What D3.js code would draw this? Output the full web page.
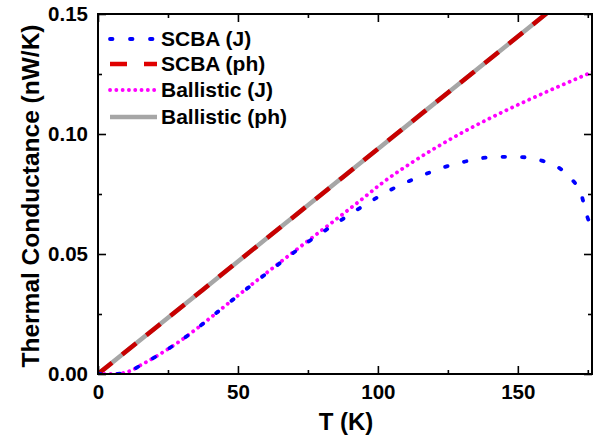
<!DOCTYPE html>
<html>
<head>
<meta charset="utf-8">
<script src="https://cdn.jsdelivr.net/npm/d3@7"></script>
<style>
  html, body { margin: 0; padding: 0; background: #fff; }
  svg { display: block; font-family: "Liberation Sans", Arial, sans-serif; font-weight: bold; }
</style>
</head>
<body>
<svg id="chart" width="598" height="437"></svg>
<script>
// ---- data ----
const phT = [0, 25, 50, 75, 100, 125, 150, 165];
const scbaPh = [0, 0.0234, 0.0469, 0.0703, 0.0938, 0.1172, 0.1406, 0.1547];
const ballisticPh = [0, 0.0234, 0.0469, 0.0703, 0.0938, 0.1172, 0.1406, 0.1547];

const ballJT = [0, 5, 8, 10, 12, 15, 20, 25, 30, 37, 45, 57, 65, 75, 85, 95, 102, 112, 122, 130, 142, 154, 165, 177];
const ballisticJ = [0, 0, 0.0002, 0.0007, 0.0015, 0.0035, 0.0068, 0.0104, 0.0143, 0.0205, 0.0280, 0.0392, 0.0465, 0.0555, 0.0644, 0.0735, 0.0800, 0.0880, 0.0952, 0.1005, 0.1077, 0.1143, 0.1200, 0.1260];

const scbaJT = [0, 5, 8, 10, 12, 15, 20, 25, 30, 37, 45, 57, 65, 75, 85, 95, 105, 115, 124, 130.4, 137.5, 144, 151, 158.5, 164, 169, 172.8, 174.5, 176.5];
const scbaJ = [0, 0, 0.0002, 0.0007, 0.0015, 0.0035, 0.0068, 0.0104, 0.0143, 0.0205, 0.0280, 0.0390, 0.0462, 0.0550, 0.0627, 0.0702, 0.0770, 0.0823, 0.0863, 0.0883, 0.0900, 0.0905, 0.0904, 0.0889, 0.0864, 0.0815, 0.0743, 0.0667, 0.0605];

const xMajorTicks = [0, 50, 100, 150];
const xMinorTicks = [25, 75, 125, 175];
const yMajorTicks = [0, 0.05, 0.10, 0.15];
const yMinorTicks = [0.025, 0.075, 0.125];

const legendLabels = ["SCBA (J)", "SCBA (ph)", "Ballistic (J)", "Ballistic (ph)"];

// ---- layout ----
const svg = d3.select("#chart");
const L = 98, R = 592, T = 14, B = 374;
const x = d3.scaleLinear().domain([0, 176.5]).range([L, R]);
const y = d3.scaleLinear().domain([0, 0.15]).range([B, T]);

svg.append("defs").append("clipPath").attr("id", "clip")
  .append("rect").attr("x", L).attr("y", T).attr("width", R - L).attr("height", B - T);

const series = [
  { name: legendLabels[3], t: phT, v: ballisticPh, color: "#a6a6a6", width: 4.5, dash: null, cap: "butt" },
  { name: legendLabels[1], t: phT, v: scbaPh, color: "#c80000", width: 4.5, dash: "18,13", cap: "butt" },
  { name: legendLabels[2], t: ballJT, v: ballisticJ, color: "#ff00ff", width: 3.8, dash: "0.1,6.2", cap: "round" },
  { name: legendLabels[0], t: scbaJT, v: scbaJ, color: "#0000ff", width: 3.8, dash: "2.5,17", cap: "round" }
];

const line = d3.line().curve(d3.curveMonotoneX);
const gLines = svg.append("g").attr("clip-path", "url(#clip)");
series.forEach(s => {
  const pts = s.t.map((t, i) => [x(t), y(s.v[i])]);
  gLines.append("path")
    .attr("d", line(pts))
    .attr("fill", "none")
    .attr("stroke", s.color)
    .attr("stroke-width", s.width)
    .attr("stroke-linecap", s.cap)
    .attr("stroke-dasharray", s.dash);
});

// ---- axes ----
function drawAxis(axisGen, tx, ty, ticks, size, showLabels) {
  const g = svg.append("g").attr("transform", `translate(${tx},${ty})`)
    .call(axisGen.tickValues(ticks).tickSizeInner(size).tickSizeOuter(0).tickPadding(showLabels ? 10 : 0)
      .tickFormat(showLabels ? undefined : () => ""));
  g.select(".domain").remove();
  g.selectAll(".tick line").attr("stroke", "#000").attr("stroke-width", 1.6);
  g.selectAll("text").attr("fill", "#000").style("font-size", "20.5px").style("font-weight", "bold")
    .style("font-family", '"Liberation Sans", Arial, sans-serif');
  return g;
}
// bottom
drawAxis(d3.axisBottom(x).tickFormat(d3.format("d")), 0, B, xMajorTicks, -8, true);
drawAxis(d3.axisBottom(x), 0, B, xMinorTicks, -4, false);
// top
drawAxis(d3.axisTop(x), 0, T, xMajorTicks, -8, false);
drawAxis(d3.axisTop(x), 0, T, xMinorTicks, -4, false);
// left
drawAxis(d3.axisLeft(y).tickFormat(d3.format(".2f")), L, 0, yMajorTicks, -8, true);
drawAxis(d3.axisLeft(y), L, 0, yMinorTicks, -4, false);
// right
drawAxis(d3.axisRight(y), R, 0, yMajorTicks, -8, false);
drawAxis(d3.axisRight(y), R, 0, yMinorTicks, -4, false);

// frame
svg.append("rect").attr("x", L).attr("y", T).attr("width", R - L).attr("height", B - T)
  .attr("fill", "none").attr("stroke", "#000").attr("stroke-width", 2);

// axis titles
svg.append("text").attr("x", 346).attr("y", 430)
  .attr("text-anchor", "middle").style("font-size", "24px").text("T (K)");
svg.append("text").attr("transform", `translate(39,${(T + B) / 2 + 2}) rotate(-90)`)
  .attr("text-anchor", "middle").style("font-size", "24.5px").text("Thermal Conductance (nW/K)");

// legend
const legendOrder = [
  { label: legendLabels[0], color: "#0000ff", width: 3.8, dash: "2.5,17.5", cap: "round" },
  { label: legendLabels[1], color: "#e00000", width: 4.5, dash: "17,17", cap: "butt" },
  { label: legendLabels[2], color: "#ff00ff", width: 3.8, dash: "0.1,6.2", cap: "round" },
  { label: legendLabels[3], color: "#a6a6a6", width: 4.5, dash: null, cap: "butt" }
];
const legY = [39, 64, 90, 117];
const lg = svg.append("g");
legendOrder.forEach((d, i) => {
  lg.append("line").attr("x1", 110).attr("x2", 157).attr("y1", legY[i]).attr("y2", legY[i])
    .attr("stroke", d.color).attr("stroke-width", d.width).attr("stroke-dasharray", d.dash)
    .attr("stroke-linecap", d.cap);
  lg.append("text").attr("x", 161).attr("y", legY[i] + 7).style("font-size", "21px").text(d.label);
});
</script>
</body>
</html>
